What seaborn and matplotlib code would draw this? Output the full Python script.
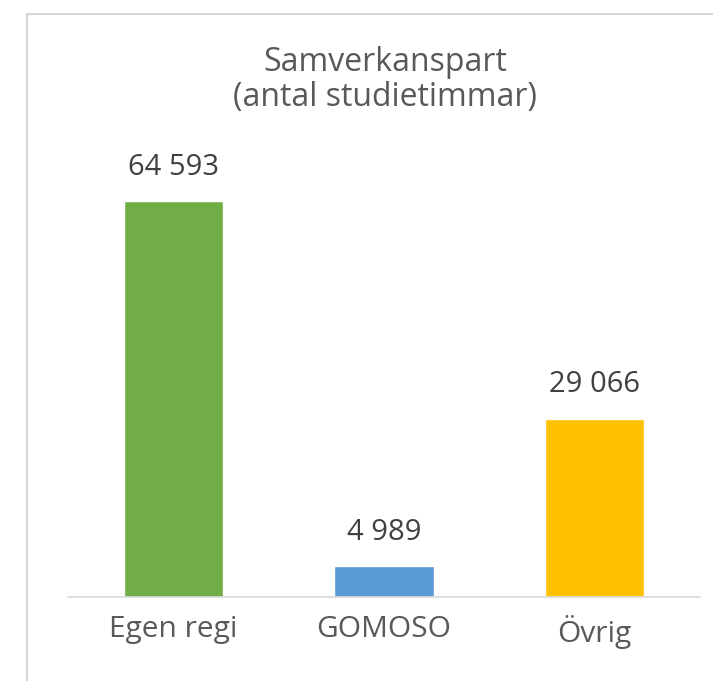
import matplotlib
matplotlib.use("Agg")
import matplotlib.pyplot as plt
import seaborn as sns
import pandas as pd
from matplotlib.patches import Rectangle

categories = ["Egen regi", "GOMOSO", "Övrig"]
values = [64593, 4989, 29066]
labels = ["64 593", "4 989", "29 066"]
colors = ["#70AD47", "#5B9BD5", "#FFC000"]

sns.set_style("white")
plt.rcParams["font.family"] = ["Open Sans", "DejaVu Sans"]
text_color = "#595959"

df = pd.DataFrame({"kategori": categories, "timmar": values})

fig = plt.figure(figsize=(7.13, 6.81), dpi=100)
# light frame of the chart area (only top and left visible in the crop)
fig.patches.append(Rectangle((27 / 713, -0.1), 2, (681 - 14) / 681 + 0.1,
                             transform=fig.transFigure, fill=False,
                             edgecolor="#d6d6d6", linewidth=1.5))

ax = fig.add_axes([68 / 713, (681 - 597) / 681, 632 / 713, 577 / 681])
sns.barplot(data=df, x="kategori", y="timmar", hue="kategori",
            palette=colors, width=0.47, legend=False, ax=ax, saturation=1)

ax.set_xlim(-0.5, 2.5)
ax.set_ylim(0, 577 * 163.1)
for sp in ["top", "right", "left"]:
    ax.spines[sp].set_visible(False)
ax.spines["bottom"].set_color("#d9d9d9")
ax.spines["bottom"].set_linewidth(1.2)
ax.set_yticks([])
ax.set_xlabel("")
ax.set_ylabel("")
ax.set_xticks(range(len(categories)))
ax.set_xticklabels(categories, fontsize=21.5, color=text_color)
ax.tick_params(axis="x", which="major", length=0, pad=13)
ax.set_xticks([-0.5, 0.5, 1.5, 2.5], minor=True)
ax.tick_params(axis="x", which="minor", length=8, color="#d9d9d9", width=1.2)

for i, cont in enumerate(ax.containers):
    ax.bar_label(cont, labels=[labels[i]], fontsize=21, color="#404040",
                 padding=14)

fig.text(385 / 713, 1 - 80 / 681, "Samverkanspart\n(antal studietimmar)",
         ha="center", va="center", fontsize=23, color=text_color,
         linespacing=1.05)

fig.savefig("out.png", dpi=100)
